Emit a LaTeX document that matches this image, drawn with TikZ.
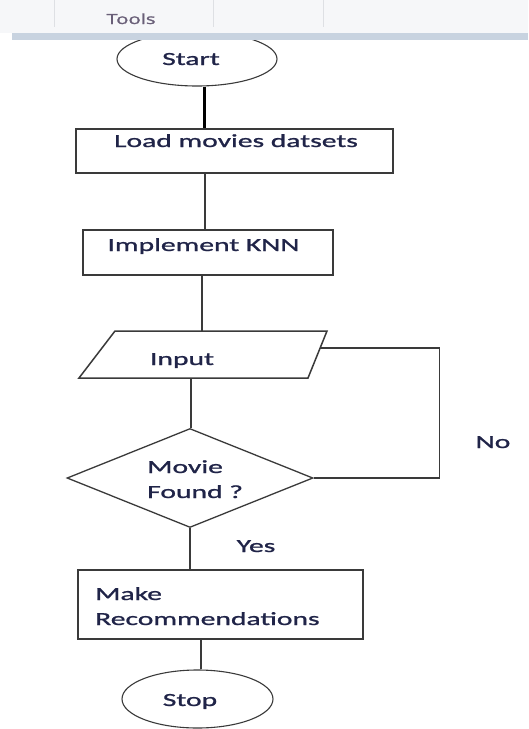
\documentclass[tikz,border=0pt]{standalone}
\usepackage{fontspec}
\setmainfont[FakeStretch=1.6,FakeBold=1.2]{Carlito}
\newfontfamily\uifont[FakeStretch=1.45,FakeBold=1.5]{Open Sans}
\usetikzlibrary{shapes.geometric}

\definecolor{ink}{RGB}{32,36,72}
\definecolor{edge}{RGB}{58,58,58}
\definecolor{barblue}{RGB}{200,211,224}
\definecolor{toolbg}{RGB}{246,247,249}
\definecolor{sepgray}{RGB}{222,224,228}
\definecolor{tooltext}{RGB}{105,95,120}

\begin{document}
\begin{tikzpicture}[x=1pt,y=-1pt,
  every node/.style={font=\fontsize{18.5}{25}\selectfont, text=ink},
  stepbox/.style={draw=edge, line width=1.5pt, rectangle, inner sep=0pt},
  terminal/.style={draw=edge, line width=1.1pt, ellipse, inner sep=0pt},
  decision/.style={draw=edge, line width=1.3pt, diamond, inner sep=0pt},
  link/.style={draw=edge, line width=1.5pt},
  lbl/.style={inner sep=0pt, anchor=base}]

\useasboundingbox[fill=white] (0,0) rectangle (528,729);

% --- terminals and process boxes ---
\node[terminal, minimum width=160, minimum height=54] (start) at (197,59) {};
\node[lbl] (starttxt) at (191,65) {Start};

\node[stepbox, minimum width=317, minimum height=44] (load) at (234.5,151) {};
\node[lbl] (loadtxt) at (236,147) {Load movies datsets};

\node[stepbox, minimum width=250, minimum height=45] (impl) at (208,252.5) {};
\node[lbl] (impltxt) at (203.5,251) {Implement KNN};

% --- input (slanted box) ---
\coordinate (inTL) at (115,331);
\coordinate (inTR) at (327,331);
\coordinate (inBR) at (308,378);
\coordinate (inBL) at (79,378);
\draw[edge, line width=1.5pt, line join=miter] (inTL) -- (inTR) -- (inBR) -- (inBL) -- cycle;
\coordinate (inTop) at (202,331);
\coordinate (inBottom) at (191,378);
\coordinate (inRight) at (320,348);
\node[lbl] (inputtxt) at (182,365) {Input};

% --- decision ---
\node[decision, minimum width=246, minimum height=99] (dec) at (190,478) {};
\node[inner sep=0pt, anchor=base west, align=left] (dectxt) at (147,498) {Movie\\Found ?};

\node[stepbox, minimum width=285, minimum height=69] (make) at (220.5,604.5) {};
\node[inner sep=0pt, anchor=base west, align=left] (maketxt) at (95,625) {Make\\Recommendations};

\node[terminal, minimum width=151, minimum height=58] (stop) at (197.5,699) {};
\node[lbl] (stoptxt) at (190,706) {Stop};

% --- branch labels ---
\node[lbl] (yes) at (256,552) {Yes};
\node[lbl] (no) at (493,448) {No};

% --- connectors ---
\draw[draw=black, line width=3pt] ([xshift=7pt]start.south) -- ([xshift=-30.5pt]load.north);
\draw[link] ([xshift=-29.5pt]load.south) -- ([xshift=-3pt]impl.north);
\draw[link] ([xshift=-6pt]impl.south) -- (inTop);
\draw[link] (inBottom) -- ([xshift=1pt]dec.north);
\draw[link] (inRight) -| ([xshift=126pt]dec.east) -- (dec.east);
\draw[link] (dec.south) -- ([xshift=-30.5pt]make.north);
\draw[link] ([xshift=-19.5pt]make.south) -- ([xshift=3.5pt]stop.north);

% --- window toolbar strip ---
\fill[toolbg] (0,0) rectangle (528,33);
\draw[sepgray, line width=1pt] (54,0) -- (54,27);
\draw[sepgray, line width=1pt] (213,0) -- (213,27);
\draw[sepgray, line width=1pt] (323,0) -- (323,27);
\fill[white] (0,33) rectangle (12,40);
\fill[barblue] (12,33) rectangle (528,40);
\node[lbl, font=\uifont\fontsize{14}{16}\selectfont, text=tooltext] (tools) at (131,24) {Tools};
\end{tikzpicture}
\end{document}
